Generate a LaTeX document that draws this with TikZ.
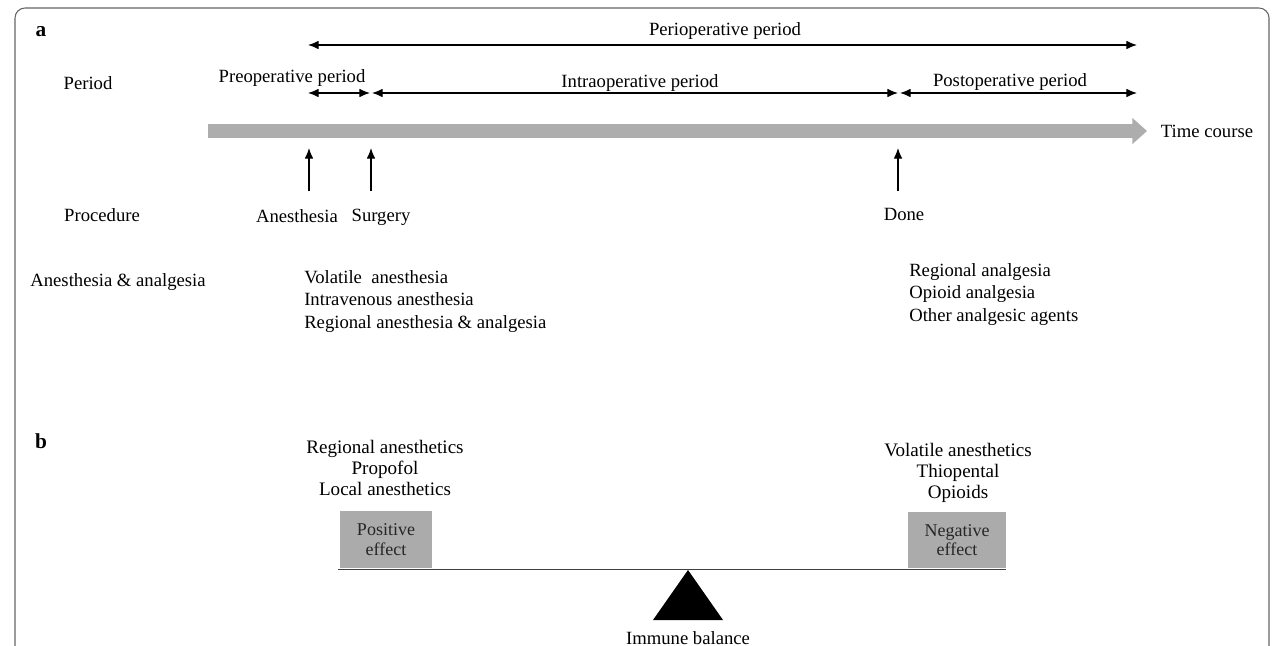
\documentclass[tikz,border=0pt]{standalone}
\usepackage{fontspec}
\setmainfont{Liberation Serif}
\usetikzlibrary{arrows.meta}
\begin{document}
\begin{tikzpicture}[x=0.75pt,y=-0.75pt,
  txt/.style={inner sep=0pt,font=\fontsize{14}{16}\selectfont},
  lst/.style={inner sep=0pt,font=\fontsize{14}{16.9}\selectfont,align=left},
  cst/.style={inner sep=0pt,font=\fontsize{14.3}{15.6}\selectfont,align=center},
  parr/.style={{Latex[length=8pt,width=6.5pt]}-{Latex[length=8pt,width=6.5pt]},line width=0.9pt},
  uarr/.style={-{Latex[length=8pt,width=6.5pt]},line width=0.9pt},
  effbox/.style={fill=black!33,inner sep=0pt,font=\fontsize{13.5}{14.5}\selectfont,align=center,text=black!85}]
\useasboundingbox (0,0) rectangle (1275,646);
% frame
\draw[black!60,line width=0.8pt,rounded corners=7.5pt] (15,660) -- (15,8) -- (1269,8) -- (1269,660);
% labels a b
\node[txt,font=\fontsize{16}{16}\bfseries] (la) at (41,32) {a};
\node[txt,font=\fontsize{16}{16}\bfseries] (lb) at (41,441) {b};
% period row
\coordinate (p1) at (308,45);
\coordinate (p2) at (1137,45);
\draw[parr] (p1) -- (p2);
\node[txt] (peri) at (725,31) {Perioperative period};
\node[txt] (period) at (88,83) {Period};
\coordinate (q1) at (308,93);
\coordinate (q2) at (370,93);
\coordinate (q3) at (372,93);
\coordinate (q4) at (898,93);
\coordinate (q5) at (900,93);
\coordinate (q6) at (1137,93);
\draw[parr] (q1) -- (q2);
\draw[parr] (q3) -- (q4);
\draw[parr] (q5) -- (q6);
\node[txt] (pre) at (292,78) {Preoperative period};
\node[txt] (intra) at (640,83) {Intraoperative period};
\node[txt] (post) at (1010,82) {Postoperative period};
% time course bar
\coordinate (t1) at (208,131);
\coordinate (t2) at (1147,131);
\draw[black!32,line width=10.5pt,-{Triangle[length=11pt,width=19pt]}] (t1) -- (t2);
\node[txt] (time) at (1207,131) {Time course};
% procedure
\node[txt] (proc) at (102,215) {Procedure};
\node[txt] (anes) at (297,216) {Anesthesia};
\node[txt] (surg) at (381,217) {Surgery};
\node[txt] (done) at (904,214) {Done};
\coordinate (u1) at (309,191);
\coordinate (u1t) at (309,148);
\coordinate (u2) at (371,191);
\coordinate (u2t) at (371,148);
\coordinate (u3) at (898,191);
\coordinate (u3t) at (898,148);
\draw[uarr] (u1) -- (u1t);
\draw[uarr] (u2) -- (u2t);
\draw[uarr] (u3) -- (u3t);
% anesthesia & analgesia
\node[txt] (aa) at (118,282) {Anesthesia \& analgesia};
\node[lst,anchor=north west] (l1) at (304,270) {Volatile\ \ anesthesia\\Intravenous anesthesia\\Regional anesthesia \& analgesia};
\node[lst,anchor=north west] (l2) at (909,263) {Regional analgesia\\Opioid analgesia\\Other analgesic agents};
% part b
\node[cst,anchor=north] (c1) at (385,440) {Regional anesthetics\\Propofol\\Local anesthetics};
\node[cst,anchor=north] (c2) at (958,443) {Volatile anesthetics\\Thiopental\\Opioids};
\node[effbox,minimum width=69pt,minimum height=43pt] (pos) at (386,539.5) {Positive\\effect};
\node[effbox,minimum width=73.5pt,minimum height=42pt] (neg) at (957,540) {Negative\\effect};
\coordinate (b1) at (338,569.5);
\coordinate (b2) at (1006,569.5);
\draw[black!75,line width=1.3pt] (b1) -- (b2);
\fill (688,570) -- (723,620) -- (653,620) -- cycle;
\node[txt] (imm) at (688,638) {Immune balance};
\end{tikzpicture}
\end{document}
